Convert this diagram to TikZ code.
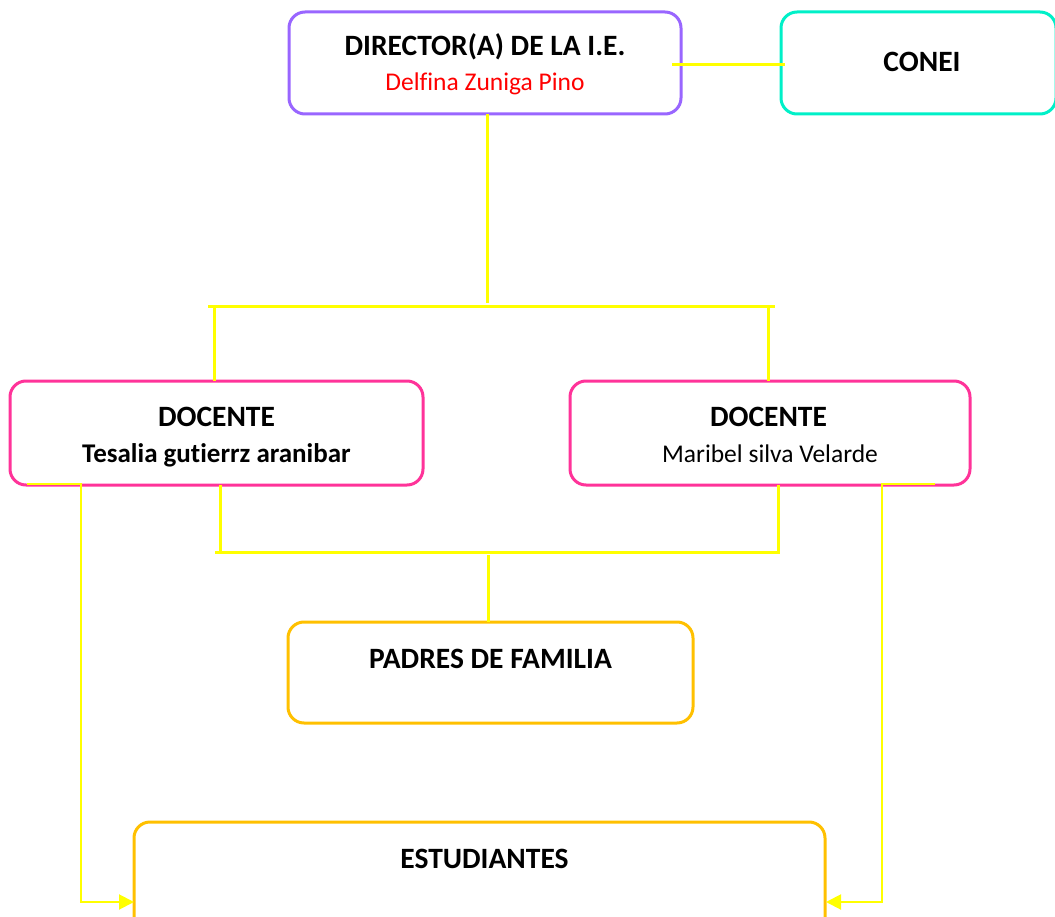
\documentclass[tikz,border=0pt]{standalone}
\usepackage{fontspec}
\setmainfont{Carlito}[Ligatures={NoCommon}]
\usetikzlibrary{arrows.meta,calc}
\definecolor{dirc}{RGB}{153,102,255}
\definecolor{conc}{RGB}{0,240,200}
\definecolor{docc}{RGB}{255,51,153}
\definecolor{orc}{RGB}{255,192,0}
\definecolor{yel}{RGB}{255,255,0}
\tikzset{
  box/.style={draw, rounded corners=16pt, line width=3pt, inner sep=0pt, outer sep=0pt},
  lbl/.style={anchor=base, inner sep=0pt, font=\fontsize{29.5}{32}\selectfont\bfseries},
  sub/.style={anchor=base, inner sep=0pt, font=\fontsize{25.5}{28}\selectfont},
  subb/.style={anchor=base, inner sep=0pt, font=\fontsize{27}{29}\selectfont\bfseries},
  conn/.style={draw=yel, line width=3pt},
  arr/.style={draw=yel, line width=2pt, -{Triangle[length=15pt,width=15pt,fill=yel]}}
}
\begin{document}
\begin{tikzpicture}[x=1pt,y=-1pt]
\useasboundingbox (0,0) rectangle (1055,917);
\clip (0,0) rectangle (1055,917);
% boxes
\node[box, draw=dirc, minimum width=392pt, minimum height=102pt] (dir) at (485,63) {};
\node[box, draw=conc, minimum width=275pt, minimum height=102pt] (conei) at (918.5,63) {};
\node[box, draw=docc, minimum width=413pt, minimum height=104pt] (docL) at (216.5,433) {};
\node[box, draw=docc, minimum width=400pt, minimum height=104pt] (docR) at (770,433) {};
\node[box, draw=orc, minimum width=405pt, minimum height=101pt] (pad) at (490.5,672.5) {};
\node[box, draw=orc, minimum width=691pt, minimum height=120pt] (est) at (479.5,882) {};
% texts
\node[lbl] (t1) at ($(dir.north)+(0,44)$) {DIRECTOR(A) DE LA I.E.};
\node[sub, text=red] (t2) at ($(dir.north)+(0,79)$) {Delfina Zuniga Pino};
\node[lbl] (t3) at ($(conei.north)+(3.5,60)$) {CONEI};
\node[lbl] (t4) at ($(docL.north)+(0,45)$) {DOCENTE};
\node[subb] (t5) at ($(docL.north)+(0,81)$) {Tesalia gutierrz aranibar};
\node[lbl] (t6) at ($(docR.north)+(-1.5,45)$) {DOCENTE};
\node[sub] (t7) at ($(docR.north)+(0,81)$) {Maribel silva Velarde};
\node[lbl] (t8) at ($(pad.north)+(0,46)$) {PADRES DE FAMILIA};
\node[lbl] (t9) at ($(est.north)+(5,46)$) {ESTUDIANTES};
% connector points
\coordinate (d1) at (487,303);
\coordinate (b1L) at (208,307);
\coordinate (b1R) at (775,307);
\coordinate (l1) at (214,307);
\coordinate (r1) at (768,307);
\coordinate (l2) at (220,552);
\coordinate (r2) at (778,552);
\coordinate (b2L) at (215,552);
\coordinate (b2R) at (780,552);
\coordinate (p2) at (488,555);
% connectors
\draw[conn] ($(dir.east)+(-9,2)$) -- ($(conei.west)+(4,2)$);
\draw[conn] (dir.south -| d1) -- (d1);
\draw[conn] (b1L) -- (b1R);
\draw[conn] (l1) -- (docL.north -| l1);
\draw[conn] (r1) -- (docR.north -| r1);
\draw[conn] (docL.south -| l2) -- (l2);
\draw[conn] (docR.south -| r2) -- (r2);
\draw[conn] (b2L) -- (b2R);
\draw[conn] (p2) -- (pad.north -| p2);
% arrows to estudiantes
\coordinate (aL) at (27,484);
\coordinate (aR) at (935,484);
\coordinate (kL1) at (81,484);
\coordinate (kL2) at (81,902);
\coordinate (kR1) at (882,484);
\coordinate (kR2) at (882,902);
\draw[arr] (aL) -- (kL1) -- (kL2) -- (est.west |- kL2);
\draw[arr] (aR) -- (kR1) -- (kR2) -- ($(est.east |- kR2)+(1,0)$);
\end{tikzpicture}
\end{document}
